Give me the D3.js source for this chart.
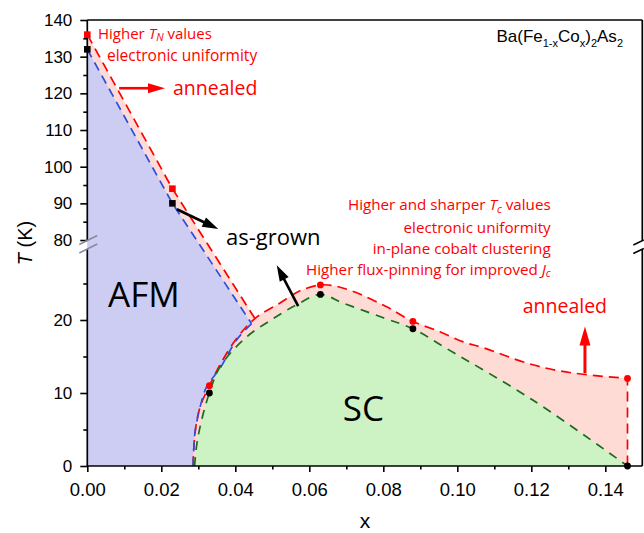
<!DOCTYPE html>
<html>
<head>
<meta charset="utf-8">
<script src="https://cdn.jsdelivr.net/npm/d3@7/dist/d3.min.js"></script>
<style>
  body { margin: 0; background: #fff; }
  svg { display: block; }
</style>
</head>
<body>
<svg id="chart" width="644" height="533"></svg>
<script>
// ---- tick values -------------------------------------------------------
const xMajorTicks = [0, 0.02, 0.04, 0.06, 0.08, 0.10, 0.12, 0.14];
const xMinorTicks = [0.01, 0.03, 0.05, 0.07, 0.09, 0.11, 0.13];
const yLowMajor = [0, 10, 20];
const yLowMinor = [5, 15, 25];
const yHighMajor = [80, 90, 100, 110, 120, 130, 140];
const yHighMinor = [85, 95, 105, 115, 125, 135];

// ---- measured transition temperatures (x, T in K) ----------------------
// Néel temperature, squares
const tnAsGrown = [[0, 132], [0.023, 90]];
const tnAnnealed = [[0, 136], [0.023, 94]];
// Superconducting Tc, circles
const tcAsGrown = [[0.033, 10], [0.063, 23.5], [0.088, 18.8], [0.146, 0]];
const tcAnnealed = [[0.033, 11], [0.063, 24.8], [0.088, 19.8], [0.146, 12]];

// ---- phase boundaries (x, T in K) --------------------------------------
const afmLineAsGrown = [[0, 132], [0.023, 90], [0.0444, 19.5]];
const afmLineAnnealed = [[0, 136], [0.023, 94], [0.0453, 20.2]];
const afmScEdge = [[0.0444, 19.5], [0.0404, 17.3], [0.0359, 13.4], [0.0323, 10.9],
                   [0.0305, 8.1], [0.0291, 4.5], [0.0286, 0]];
const scDomeAsGrown = [[0.029, 0], [0.0296, 3.0], [0.0309, 6.3], [0.033, 10], [0.0359, 13.6],
                       [0.0431, 17.7], [0.0503, 20.2], [0.0566, 22.1], [0.063, 23.5],
                       [0.0692, 22.3], [0.080, 20.3], [0.088, 18.8], [0.0971, 16.1],
                       [0.1205, 9.0], [0.146, 0]];
const scDomeAnnealed = [[0.0286, 0], [0.0291, 4.5], [0.0305, 8.1], [0.033, 11], [0.0359, 13.9],
                        [0.0404, 17.5], [0.0453, 20.2], [0.052, 22.3], [0.0575, 24.0],
                        [0.063, 24.8], [0.0665, 24.7], [0.0719, 23.9], [0.0809, 21.8],
                        [0.088, 19.8], [0.0953, 18.4], [0.1016, 17.0], [0.107, 16.2],
                        [0.1188, 14.1], [0.1269, 13.1], [0.135, 12.5], [0.146, 12.0]];

// ---- annotation arrows: [from, to] in (x, T) ----------------------------
const arrowTN = [[0.0086, 121.4], [0.021, 121.4]];
const arrowAsGrownTN = [[0.0242, 88.4], [0.0354, 83.0]];
const arrowAsGrownTc = [[0.057, 21.9], [0.0512, 27.5]];
const arrowTc = [[0.1345, 12.7], [0.1345, 19.1]];

// ---- colours -----------------------------------------------------------
const RED = "#ff0000";
const BLUE = "#2b4fe0";
const GREEN = "#1d6b1d";
const FILL_AFM = "#cdcdf4";
const FILL_ANNEAL = "#ffdbd6";
const FILL_SC = "#cdf3c5";

const svg = d3.select("#chart");

// ---- scales: broken temperature axis ------------------------------------
const x = d3.scaleLinear().domain([0, 0.15]).range([87.3, 642.3]);
const yLow = d3.scaleLinear().domain([0, 30]).range([466, 247]);
const yHigh = d3.scaleLinear().domain([79, 140]).range([243.7, 20]);
const y = T => (T >= 50 ? yHigh(T) : yLow(T));

const straight = d3.line().x(d => x(d[0])).y(d => y(d[1]));
const smooth = d3.line().x(d => x(d[0])).y(d => y(d[1])).curve(d3.curveCatmullRom.alpha(0.5));

// ---- filled regions ----------------------------------------------------
// annealed envelope (pink)
svg.append("path")
  .attr("d", straight([[0, 0], ...afmLineAnnealed, [0.0453, 0]]) + "Z")
  .attr("fill", FILL_ANNEAL);
svg.append("path")
  .attr("d", smooth(scDomeAnnealed) + "L" + x(0.146) + "," + y(0) + "Z")
  .attr("fill", FILL_ANNEAL);
// AFM (as-grown)
svg.append("path")
  .attr("d", straight([[0, 0], ...afmLineAsGrown.slice(0, 2)]) +
             smooth(afmScEdge).replace(/^M/, "L") + "Z")
  .attr("fill", FILL_AFM);
// SC dome (as-grown)
svg.append("path")
  .attr("d", smooth(scDomeAsGrown) + "Z")
  .attr("fill", FILL_SC);

// ---- dashed boundary lines ---------------------------------------------
const dashed = (d, color, dash) => svg.append("path")
  .attr("d", d).attr("fill", "none").attr("stroke", color)
  .attr("stroke-width", 1.7).attr("stroke-dasharray", dash);

dashed(straight(afmLineAnnealed), RED, "10,6");
dashed(smooth(scDomeAnnealed) + "L" + x(0.146) + "," + y(0), RED, "10,6");
dashed(straight(afmLineAsGrown), BLUE, "9,6");
dashed(smooth(afmScEdge), BLUE, "9,6");
dashed(smooth(scDomeAsGrown), GREEN, "9,7");

// ---- axes --------------------------------------------------------------
const axisColor = "#000";
const gx = svg.append("g").attr("transform", `translate(0,${yLow(0)})`);
gx.call(d3.axisBottom(x).tickValues(xMajorTicks).tickSize(6).tickPadding(11)
  .tickFormat(d3.format(".2f")));
gx.append("g").call(d3.axisBottom(x).tickValues(xMinorTicks).tickSize(3.5).tickFormat(""));
gx.selectAll(".domain").remove();
gx.selectAll("text").attr("font-size", 18.5).attr("font-family", "Liberation Sans, Arial, sans-serif").attr("fill", "#000");

function yAxis(scale, major, minor) {
  const g = svg.append("g").attr("transform", `translate(${x(0)},0)`);
  g.call(d3.axisLeft(scale).tickValues(major).tickSize(7).tickPadding(8).tickFormat(d3.format("d")));
  g.append("g").call(d3.axisLeft(scale).tickValues(minor).tickSize(4).tickFormat(""));
  g.selectAll(".domain").remove();
  g.selectAll("text").attr("font-size", 17).attr("font-family", "Liberation Sans, Arial, sans-serif").attr("fill", "#000");
  return g;
}
yAxis(yLow, yLowMajor, yLowMinor);
yAxis(yHigh, yHighMajor, yHighMinor);
svg.selectAll(".tick line").attr("stroke", axisColor).attr("stroke-width", 1.6);

// frame lines, with a gap at the axis break
const frame = svg.append("g").attr("stroke", axisColor).attr("stroke-width", 1.7).attr("fill", "none");
const breakTop = 240.5, breakBottom = 249;
frame.append("line").attr("x1", x(0)).attr("x2", x(0.15)).attr("y1", yLow(0)).attr("y2", yLow(0));
frame.append("line").attr("x1", x(0)).attr("x2", x(0.15)).attr("y1", yHigh(140)).attr("y2", yHigh(140));
[x(0), x(0.15)].forEach(px => {
  frame.append("line").attr("x1", px).attr("x2", px).attr("y1", yHigh(140)).attr("y2", breakTop);
  frame.append("line").attr("x1", px).attr("x2", px).attr("y1", breakBottom).attr("y2", yLow(0));
});
// break marks
const bm = svg.append("g").attr("fill", "none").attr("stroke-width", 1.5);
[breakTop, breakBottom].forEach(by => {
  bm.append("line").attr("x1", x(0) - 8).attr("y1", by + 4).attr("x2", x(0) + 10).attr("y2", by - 5)
    .attr("stroke", "#8a8a9a");
  bm.append("line").attr("x1", x(0.15) - 9).attr("y1", by + 4.5).attr("x2", x(0.15) + 1.5).attr("y2", by - 0.5)
    .attr("stroke", "#000");
});

// axis titles
svg.append("text").attr("x", 365).attr("y", 528).attr("text-anchor", "middle")
  .attr("font-family", "Liberation Sans, Arial, sans-serif").attr("font-size", 21).text("x");
const yt = svg.append("text").attr("transform", "translate(32,243) rotate(-90)")
  .attr("text-anchor", "middle").attr("font-family", "Liberation Sans, Arial, sans-serif").attr("font-size", 20);
yt.append("tspan").attr("font-style", "italic").text("T");
yt.append("tspan").text(" (K)");

// ---- markers -----------------------------------------------------------
const sq = 6.6;
const squares = (data, color) => svg.append("g").selectAll("rect").data(data).join("rect")
  .attr("x", d => x(d[0]) - sq / 2).attr("y", d => y(d[1]) - sq / 2)
  .attr("width", sq).attr("height", sq).attr("fill", color);
const circles = (data, color) => svg.append("g").selectAll("circle").data(data).join("circle")
  .attr("cx", d => x(d[0])).attr("cy", d => y(d[1])).attr("r", 3.4).attr("fill", color);
squares(tnAnnealed, RED);
squares(tnAsGrown, "#000");
circles(tcAnnealed, RED);
circles(tcAsGrown, "#000");

// ---- arrows ------------------------------------------------------------
function arrow([[x1, t1], [x2, t2]], color, headLen, headW, width) {
  const p1 = [x(x1), y(t1)], p2 = [x(x2), y(t2)];
  const dx = p2[0] - p1[0], dy = p2[1] - p1[1];
  const len = Math.hypot(dx, dy), ux = dx / len, uy = dy / len;
  const bx = p2[0] - ux * headLen, by = p2[1] - uy * headLen;
  svg.append("line").attr("x1", p1[0]).attr("y1", p1[1]).attr("x2", bx + ux * 2).attr("y2", by + uy * 2)
    .attr("stroke", color).attr("stroke-width", width);
  svg.append("polygon").attr("fill", color).attr("points", [
    [p2[0], p2[1]],
    [bx - uy * headW / 2, by + ux * headW / 2],
    [bx + uy * headW / 2, by - ux * headW / 2]
  ].map(p => p.join(",")).join(" "));
}
arrow(arrowTN, RED, 17, 10, 2.6);
arrow(arrowAsGrownTN, "#000", 16, 10, 2.6);
arrow(arrowAsGrownTc, "#000", 16, 10, 2.6);
arrow(arrowTc, RED, 19, 11, 3);

// ---- labels ------------------------------------------------------------
const SANS = "Open Sans, Noto Sans, sans-serif";
function label(px, py, parts, opts) {
  const t = svg.append("text").attr("x", px).attr("y", py)
    .attr("font-family", SANS).attr("font-size", opts.size).attr("fill", opts.color)
    .attr("text-anchor", opts.anchor || "start");
  parts.forEach(p => {
    const s = t.append("tspan").text(p.t);
    if (p.it) s.attr("font-style", "italic");
    if (p.sub) s.attr("font-size", opts.size * 0.7).attr("dy", 2.5);
    if (p.back) s.attr("dy", -2.5);
  });
  return t;
}
label(98, 38.5, [{t: "Higher "}, {t: "T", it: 1}, {t: "N", it: 1, sub: 1}, {t: " values", back: 1}], {size: 15, color: RED});
label(107, 60.5, [{t: "electronic uniformity"}], {size: 15.5, color: RED});
label(173, 95, [{t: "annealed"}], {size: 19.5, color: RED});
label(226, 245, [{t: "as-grown"}], {size: 22, color: "#000"});
label(108, 306.7, [{t: "AFM"}], {size: 35, color: "#000"});
label(342.7, 420.7, [{t: "SC"}], {size: 35, color: "#000"});
label(522.7, 313.3, [{t: "annealed"}], {size: 19.5, color: RED});

const rightEdge = 550.7;
label(rightEdge, 210.2, [{t: "Higher and sharper "}, {t: "T", it: 1}, {t: "c", it: 1, sub: 1}, {t: " values", back: 1}],
  {size: 15.2, color: RED, anchor: "end"});
label(rightEdge, 232.6, [{t: "electronic uniformity"}], {size: 15.2, color: RED, anchor: "end"});
label(rightEdge, 253.6, [{t: "in-plane cobalt clustering"}], {size: 15.2, color: RED, anchor: "end"});
label(rightEdge, 274.6, [{t: "Higher flux-pinning for improved "}, {t: "J", it: 1}, {t: "c", it: 1, sub: 1}],
  {size: 15.2, color: RED, anchor: "end"});

// compound formula
const title = svg.append("text").attr("x", 623).attr("y", 41.7).attr("text-anchor", "end")
  .attr("font-family", "Liberation Sans, Arial, sans-serif").attr("font-size", 17).attr("fill", "#000");
[["Ba(Fe", 0], ["1-x", 1], ["Co", 0], ["x", 1], [")", 0], ["2", 1], ["As", 0], ["2", 1]].forEach(([s, sub], i, arr) => {
  const ts = title.append("tspan").text(s);
  if (sub) ts.attr("font-size", 11).attr("dy", 5);
  else if (i > 0 && arr[i - 1][1]) ts.attr("dy", -5);
});
</script>
</body>
</html>
